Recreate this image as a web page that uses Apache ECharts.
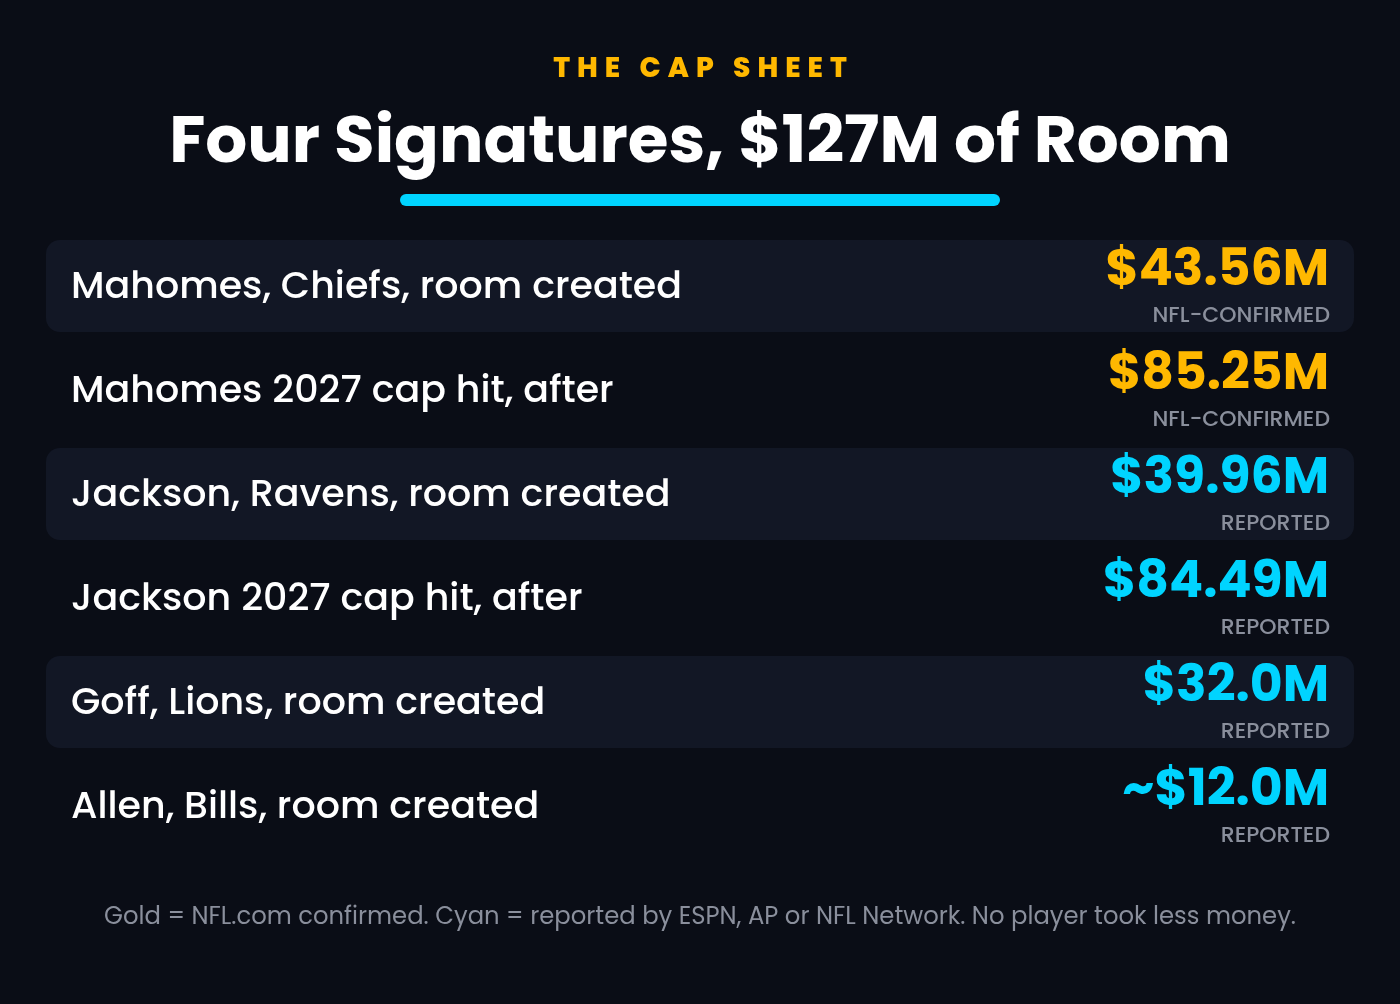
<!DOCTYPE html>
<html>
<head>
<meta charset="utf-8">
<title>The Cap Sheet</title>
<script src="https://cdn.jsdelivr.net/npm/echarts@6/dist/echarts.min.js"></script>
<style>
  html, body { margin: 0; padding: 0; background: #0a0d16; }
  #chart { width: 1400px; height: 1004px; }
</style>
</head>
<body>
<div id="chart"></div>
<script>
// 数据
var rowLabels = [
  "Mahomes, Chiefs, room created",
  "Mahomes 2027 cap hit, after",
  "Jackson, Ravens, room created",
  "Jackson 2027 cap hit, after",
  "Goff, Lions, room created",
  "Allen, Bills, room created"
];
var rowValues = [43.56, 85.25, 39.96, 84.49, 32.0, 12.0];
var rowDecimals = [2, 2, 2, 2, 1, 1];
var rowApprox = [false, false, false, false, false, true];
var rowSources = ["NFL-CONFIRMED", "NFL-CONFIRMED", "REPORTED", "REPORTED", "REPORTED", "REPORTED"];

var GOLD = "#ffb800";
var CYAN = "#00d4ff";
var FONT = "Poppins, 'Noto Sans', sans-serif";

function spaced(str) {
  // 字间距
  return str.split("").join("\u2005");
}

function fmtValue(i) {
  return (rowApprox[i] ? "~" : "") + "$" + rowValues[i].toFixed(rowDecimals[i]) + "M";
}

var chart = echarts.init(document.getElementById("chart"));
var options = {
  backgroundColor: "#0a0d16",
  animation: false,
  title: [
    {
      text: spaced("THE CAP SHEET"),
      left: "center",
      top: 51,
      textStyle: { color: GOLD, fontSize: 28, fontWeight: 800, fontFamily: FONT }
    },
    {
      text: "Four Signatures, $127M of Room",
      left: "center",
      top: 107,
      textStyle: { color: "#ffffff", fontSize: 66, fontWeight: 700, fontFamily: FONT }
    },
    {
      text: "Gold = NFL.com confirmed. Cyan = reported by ESPN, AP or NFL Network. No player took less money.",
      left: "center",
      top: 901,
      textStyle: { color: "#8a8f9c", fontSize: 24.3, fontWeight: 400, fontFamily: FONT }
    }
  ],
  graphic: [
    {
      type: "rect",
      left: 400,
      top: 194,
      shape: { width: 600, height: 12, r: 6 },
      style: { fill: CYAN }
    }
  ],
  grid: { left: 46, right: 46, top: 234, height: 624 },
  xAxis: { type: "value", min: 0, max: 1, show: false },
  yAxis: {
    type: "category",
    data: rowLabels,
    inverse: true,
    show: false
  },
  series: [
    {
      type: "custom",
      data: rowLabels.map(function (l, i) { return [0, i]; }),
      encode: { x: 0, y: 1 },
      renderItem: function (params, api) {
        var i = api.value(1);
        var left = api.coord([0, i]);
        var right = api.coord([1, i]);
        var band = api.size([0, 1])[1];
        var cy = left[1];
        var color = rowSources[i] === "NFL-CONFIRMED" ? GOLD : CYAN;
        var children = [];
        if (i % 2 === 0) {
          children.push({
            type: "rect",
            shape: { x: left[0], y: cy - band / 2 + 6, width: right[0] - left[0], height: band - 12, r: 14 },
            style: { fill: "#121725" }
          });
        }
        children.push({
          type: "text",
          style: {
            x: left[0] + 25, y: cy + 2, text: rowLabels[i],
            fill: "#ffffff", font: "500 38px " + FONT,
            textAlign: "left", textVerticalAlign: "middle"
          }
        });
        children.push({
          type: "text",
          style: {
            x: right[0] - 25, y: cy - 14, text: fmtValue(i),
            fill: color, font: "700 50.5px " + FONT,
            textAlign: "right", textVerticalAlign: "middle"
          }
        });
        children.push({
          type: "text",
          style: {
            x: right[0] - 24, y: cy + 30, text: rowSources[i],
            fill: "#8a8f9c", font: "500 22px " + FONT,
            textAlign: "right", textVerticalAlign: "middle"
          }
        });
        return { type: "group", children: children };
      }
    }
  ]
};
chart.setOption(options);
</script>
</body>
</html>
